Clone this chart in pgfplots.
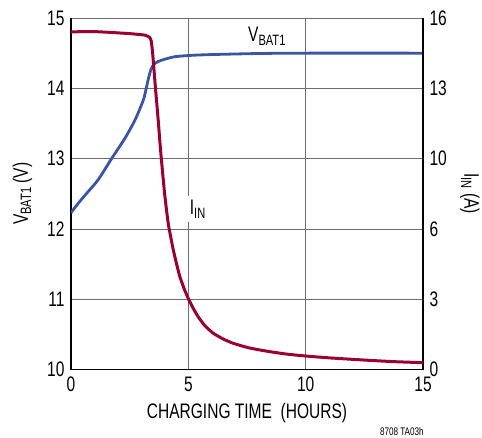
\documentclass[border=0pt]{standalone}
\usepackage{pgfplots}
\pgfplotsset{compat=1.18}
\usepackage{fontspec}
\setmainfont{Liberation Sans}[FakeStretch=0.74]
\definecolor{ired}{HTML}{9A0032}
\definecolor{vblue}{HTML}{3A55A4}
\definecolor{gridgray}{HTML}{6E6E6E}
\newcommand{\bigf}{\fontsize{21}{23}\selectfont}
\newcommand{\subt}[1]{\raisebox{-0.3ex}{\fontsize{15}{15}\selectfont #1}}
\begin{document}
\begin{tikzpicture}
\useasboundingbox (0,0) rectangle (482pt,437pt);
\begin{axis}[
  at={(71pt,67.5pt)}, anchor=south west,
  width=352pt, height=351.5pt, scale only axis,
  xmin=0, xmax=15, ymin=10, ymax=15,
  xtick={0,5,10,15}, ytick={10,11,12,13,14,15},
  axis y line*=left, axis x line*=bottom,
  axis line style={line width=1.5pt, black},
  major tick length=0pt,
  clip mode=individual,
  grid=major, major grid style={gridgray, line width=0.8pt},
  /pgf/number format/assume math mode=true,
  tick label style={font=\bigf},
  yticklabel style={xshift=-3pt},
  xticklabel style={yshift=-4pt},
  every axis y label/.style={at={(axis description cs:-0.138,0.5)}, rotate=90, anchor=center},
  every axis x label/.style={at={(axis description cs:0.5,-0.124)}, anchor=center},
  ylabel={\bigf V\subt{BAT1} (V)},
  xlabel={\bigf CHARGING TIME\ \ (HOURS)},
]
\addplot[vblue, line width=2.8pt, smooth, tension=0.4] coordinates {
(0,12.23) (0.3,12.36) (0.6,12.48) (1.16,12.70) (1.73,13.0) (2.3,13.29)
(2.73,13.55) (3.08,13.83) (3.2,13.99) (3.30,14.14) (3.40,14.26) (3.47,14.31)
(3.6,14.36) (3.86,14.40) (4.43,14.45) (5.2,14.47) (6,14.48) (8,14.495)
(10,14.5) (15,14.5)};
\node[anchor=base west, inner sep=0pt] at (axis cs:7.54,14.66)
  {\bigf V\subt{BAT1}};
\node[anchor=base west, fill=white, inner xsep=3pt, inner ysep=4pt] at (axis cs:4.93,12.2)
  {\bigf I\subt{IN}};
\node[anchor=center] at (axis description cs:0.94,-0.178)
  {\fontsize{11}{12}\selectfont 8708 TA03h};
\end{axis}
\begin{axis}[
  at={(71pt,67.5pt)}, anchor=south west,
  width=352pt, height=351.5pt, scale only axis,
  xmin=0, xmax=15, ymin=0, ymax=16,
  axis y line*=right, axis x line=none,
  axis line style={line width=1.5pt, black},
  major tick length=0pt,
  ytick={0,3.2,6.4,9.6,12.8,16}, yticklabels={0,3,6,10,13,16},
  /pgf/number format/assume math mode=true,
  tick label style={font=\bigf},
  yticklabel style={xshift=3pt},
  every axis y label/.style={at={(axis description cs:1.133,0.5)}, rotate=-90, anchor=center},
  ylabel={\bigf I\subt{IN} (A)},
]
\addplot[ired, line width=3pt, smooth, tension=0.3] coordinates {
(0,15.37) (1,15.38) (1.9,15.33) (2.6,15.28) (3.15,15.22) (3.35,15.12)
(3.42,14.95) (3.47,14.5) (3.51,14.0) (3.6,12.8) (3.72,11.3) (3.8,10.2)
(3.9,9.0) (4.0,7.9) (4.15,6.6) (4.36,5.44) (4.5,4.8) (4.64,4.22) (4.85,3.6)
(5.03,3.16) (5.2,2.8) (5.42,2.40) (5.7,2.0) (6.06,1.65) (6.5,1.38) (6.92,1.19)
(7.6,0.98) (8.48,0.81) (9.2,0.70) (10.04,0.61) (11,0.53) (12.5,0.43) (13.7,0.36) (15,0.31)};
\end{axis}
\end{tikzpicture}
\end{document}
